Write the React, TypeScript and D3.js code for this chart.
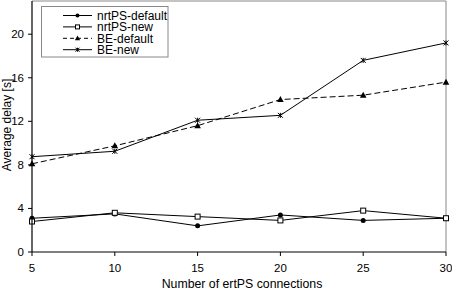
import React from "react";
import * as d3 from "d3";

const xValues = [5, 10, 15, 20, 25, 30];
const nrtPSDefault = [3.1, 3.5, 2.4, 3.4, 2.9, 3.1];
const nrtPSNew = [2.8, 3.6, 3.25, 2.9, 3.8, 3.1];
const beDefault = [8.1, 9.75, 11.6, 14.0, 14.4, 15.6];
const beNew = [8.75, 9.25, 12.1, 12.55, 17.6, 19.2];
const yTicks = [0, 4, 8, 12, 16, 20];
const seriesNames = ["nrtPS-default", "nrtPS-new", "BE-default", "BE-new"];

const W = 452, H = 291;
const left = 32, right = 446, top = 1, bottom = 252;

function Marker({ kind, x, y, s = 1 }: { kind: string; x: number; y: number; s?: number }) {
  if (kind === "circle") return <circle cx={x} cy={y} r={2.5 * s} fill="#000" />;
  if (kind === "square")
    return <rect x={x - 2.5 * s} y={y - 2.5 * s} width={5 * s} height={5 * s} fill="#fff" stroke="#000" strokeWidth={1} />;
  if (kind === "triangle")
    return <path d={`M${x},${y - 3.5 * s}L${x + 3.3 * s},${y + 2.5 * s}L${x - 3.3 * s},${y + 2.5 * s}Z`} fill="#000" />;
  const r = 2.5 * s;
  return (
    <g stroke="#000" strokeWidth={1}>
      <line x1={x - r} y1={y - r} x2={x + r} y2={y + r} />
      <line x1={x - r} y1={y + r} x2={x + r} y2={y - r} />
      <line x1={x} y1={y - r} x2={x} y2={y + r} />
    </g>
  );
}

export default function App() {
  const x = d3.scaleLinear().domain([5, 30]).range([left, right]);
  const y = d3.scaleLinear().domain([0, 23.05]).range([bottom, top]);
  const line = d3.line<number>().x((_, i) => x(xValues[i])).y((d) => y(d));
  const series = [
    { name: seriesNames[0], data: nrtPSDefault, marker: "circle", dash: undefined },
    { name: seriesNames[1], data: nrtPSNew, marker: "square", dash: undefined },
    { name: seriesNames[2], data: beDefault, marker: "triangle", dash: "6,3" },
    { name: seriesNames[3], data: beNew, marker: "x", dash: undefined },
  ];
  const font = "Arial, 'Liberation Sans', sans-serif";
  return (
    <svg width={W} height={H} style={{ position: "absolute", left: 0, top: 0 }} fontFamily={font}>
      <rect x={0} y={0} width={W} height={H} fill="#fff" />
      <line x1={left} y1={top} x2={right} y2={top} stroke="#888" strokeWidth={1} />
      <line x1={right} y1={top} x2={right} y2={bottom} stroke="#888" strokeWidth={1} />
      {series.map((s) => (
        <g key={s.name}>
          <path d={line(s.data) || ""} fill="none" stroke="#000" strokeWidth={1} strokeDasharray={s.dash} />
          {s.data.map((v, i) => (
            <Marker key={i} kind={s.marker} x={x(xValues[i])} y={y(v)} />
          ))}
        </g>
      ))}
      <line x1={left} y1={top} x2={left} y2={bottom} stroke="#000" strokeWidth={1.2} />
      <line x1={left} y1={bottom} x2={right} y2={bottom} stroke="#000" strokeWidth={1.2} />
      {yTicks.map((t) => (
        <g key={t}>
          <line x1={left - 4} x2={left} y1={y(t)} y2={y(t)} stroke="#000" />
          <text x={24} y={y(t) + 4} fontSize={11.5} textAnchor="end" fill="#000">{t}</text>
        </g>
      ))}
      {xValues.map((t) => (
        <g key={t}>
          <line x1={x(t)} x2={x(t)} y1={bottom} y2={bottom + 4} stroke="#000" />
          <text x={x(t)} y={272} fontSize={11.5} textAnchor="middle" fill="#000">{t}</text>
        </g>
      ))}
      <text x={242} y={287.5} fontSize={12.3} textAnchor="middle" fill="#000">Number of ertPS connections</text>
      <text transform={`translate(11,125) rotate(-90)`} fontSize={12} textAnchor="middle" fill="#000">Average delay [s]</text>
      <rect x={41.5} y={6.5} width={126.5} height={50.5} fill="#fff" stroke="#888" strokeWidth={1} />
      {series.map((s, i) => {
        const ly = 15.5 + i * 11.4;
        return (
          <g key={s.name}>
            <line x1={63} x2={92} y1={ly} y2={ly} stroke="#000" strokeDasharray={s.dash ? "4,3" : undefined} />
            <Marker kind={s.marker} x={77.5} y={ly} s={0.8} />
            <text x={97} y={ly + 4.3} fontSize={12} fill="#000">{s.name}</text>
          </g>
        );
      })}
    </svg>
  );
}
